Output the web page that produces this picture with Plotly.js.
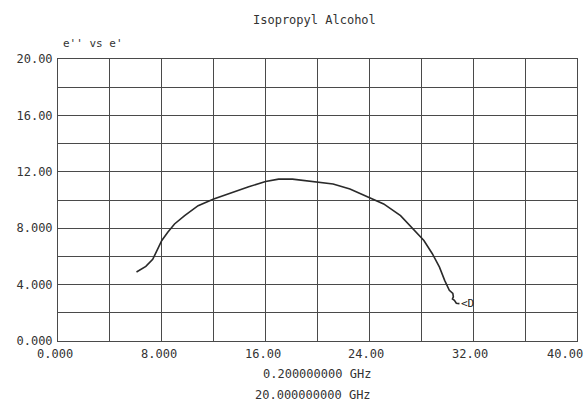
<!DOCTYPE html>
<html>
<head>
<meta charset="utf-8">
<script src="https://cdn.plot.ly/plotly-3.0.1.min.js"></script>
<style>html,body{margin:0;padding:0;background:#fff;}#chart{width:586px;height:404px;}</style>
</head>
<body>
<div id="chart"></div>
<script>
// e' (real permittivity) values
const ePrime = [6.05, 6.77, 7.3, 7.68, 8.0, 8.46, 8.98, 9.76, 10.8, 12.0, 13.4, 14.7, 16.0, 17.0, 18.07, 19.97, 21.2, 22.5, 24.0, 25.1, 26.4, 27.4, 28.2, 28.85, 29.4, 29.8, 30.16, 30.43, 30.47, 30.4, 30.55, 30.7, 30.94];
// e'' (imaginary permittivity) values
const eDoublePrime = [4.89, 5.29, 5.79, 6.54, 7.13, 7.71, 8.3, 8.89, 9.6, 10.07, 10.54, 10.94, 11.31, 11.48, 11.48, 11.29, 11.13, 10.78, 10.18, 9.72, 8.89, 7.95, 7.13, 6.19, 5.24, 4.3, 3.6, 3.37, 3.13, 2.98, 2.88, 2.68, 2.65];
const xTickVals = [0, 8, 16, 24, 32, 40];
const xTickText = ["0.000", "8.000", "16.00", "24.00", "32.00", "40.00"];
const yTickVals = [0, 4, 8, 12, 16, 20];
const yTickText = ["0.000", "4.000", "8.000", "12.00", "16.00", "20.00"];
const titleText = "Isopropyl Alcohol";
const subTitleText = "e'' vs e'";
const startFreqText = "0.200000000 GHz";
const stopFreqText = "20.000000000 GHz";
const endMarkerText = "&lt;D";

const FONT = "DejaVu Sans Mono, Liberation Mono, monospace";
const TXT = "#333";
const GRID = "#4a4a4a";

const n = ePrime.length;
const trace = {
  x: ePrime, y: eDoublePrime, type: "scatter", mode: "lines",
  line: {color: "#2a2a2a", width: 1.6},
  hoverinfo: "none"
};

const annotations = [];
xTickVals.forEach((v, i) => {
  const last = i === xTickVals.length - 1;
  annotations.push({
    x: v, xref: "x", y: 0, yref: "paper", yanchor: "top", yshift: -4,
    xanchor: last ? "right" : "center", xshift: last ? 8 : -3,
    text: xTickText[i], showarrow: false,
    font: {family: FONT, size: 12, color: TXT}
  });
});
annotations.push({x: 0.494, xref: "paper", y: 1, yref: "paper", yshift: 39, yanchor: "middle",
  text: titleText, showarrow: false, font: {family: FONT, size: 12, color: TXT}});
annotations.push({x: 0.006, xref: "paper", xanchor: "left", y: 1, yref: "paper", yshift: 16, yanchor: "middle",
  text: subTitleText, showarrow: false, font: {family: FONT, size: 11, color: TXT}});
annotations.push({x: 0.607, xref: "paper", xanchor: "right", y: 0, yref: "paper", yshift: -33, yanchor: "middle",
  text: startFreqText, showarrow: false, font: {family: FONT, size: 12, color: TXT}});
annotations.push({x: 0.607, xref: "paper", xanchor: "right", y: 0, yref: "paper", yshift: -54, yanchor: "middle",
  text: stopFreqText, showarrow: false, font: {family: FONT, size: 12, color: TXT}});
annotations.push({x: ePrime[n - 1], y: eDoublePrime[n - 1], xref: "x", yref: "y", xanchor: "left", yanchor: "middle",
  xshift: 0, text: endMarkerText, showarrow: false, font: {family: FONT, size: 11, color: "#222"}});

const layout = {
  width: 586, height: 404,
  margin: {l: 58, r: 9, t: 59, b: 63, pad: 0},
  paper_bgcolor: "#fff", plot_bgcolor: "#fff",
  showlegend: false,
  xaxis: {
    range: [0, 40], dtick: 4, tick0: 0, showgrid: true, gridcolor: GRID, gridwidth: 1,
    showticklabels: false, zeroline: false, showline: true, linecolor: GRID, linewidth: 1, mirror: true,
    ticks: "", fixedrange: true
  },
  yaxis: {
    range: [0, 20], tickmode: "array", tickvals: yTickVals, ticktext: yTickText,
    showgrid: true, gridcolor: GRID, gridwidth: 1,
    minor: {dtick: 2, tick0: 0, showgrid: true, gridcolor: GRID, gridwidth: 1},
    zeroline: false, showline: true, linecolor: GRID, linewidth: 1, mirror: true,
    ticks: "", ticklabelstandoff: 2, tickfont: {family: FONT, size: 12, color: TXT}, fixedrange: true
  },
  annotations: annotations
};

Plotly.newPlot("chart", [trace], layout, {staticPlot: true, displayModeBar: false});
</script>
</body>
</html>
